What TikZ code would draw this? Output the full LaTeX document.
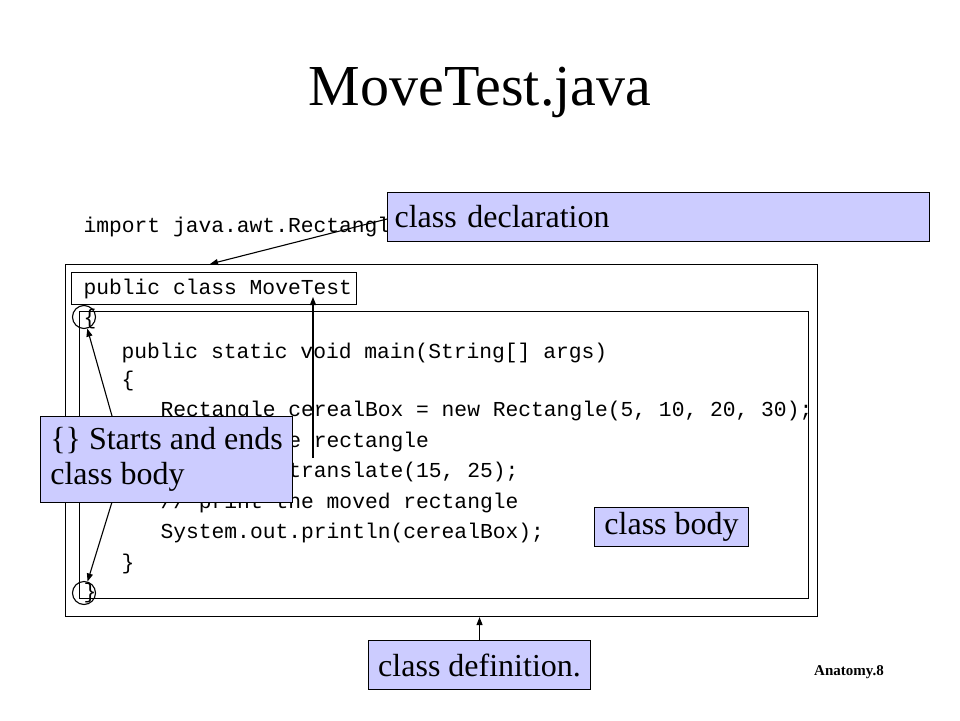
\documentclass[tikz,border=0pt]{standalone}
\usepackage{fontspec}
\setmainfont{Liberation Serif}
\setmonofont{Liberation Mono}
\usetikzlibrary{positioning,arrows.meta}
\definecolor{notefill}{RGB}{204,204,255}

\begin{document}
\begin{tikzpicture}[x=1pt,y=-1pt,line width=1.1pt,
  code/.style={anchor=base west,inner sep=0pt,font=\fontsize{21.3}{24}\selectfont\ttfamily},
  note/.style={draw,fill=notefill,font=\fontsize{32}{35}\selectfont,inner xsep=7pt,inner ysep=0pt,align=left},
  pointer/.style={-{Triangle[length=8pt,width=6pt]}},
  brace/.style={draw,circle,minimum size=23pt,inner sep=0pt}]
  \useasboundingbox (0,0) rectangle (960,720);
  % title
  \node[font=\fontsize{58}{60}\selectfont,anchor=base] (title) at (480,105) {MoveTest.java};
  % frames round the class
  \node[draw,anchor=north west,minimum width=752pt,minimum height=352pt] (classdef) at (65,264) {};
  \node[draw,anchor=north west,minimum width=729pt,minimum height=287pt] (body) at (79,311) {};
  \node[draw,anchor=north west,minimum width=285pt,minimum height=32pt] (header) at (71,272) {};
  % source lines
  \node[code] (import) at (83,232) {import java.awt.Rectangle;};
  \node[code] (headertext) at (83,294) {public class MoveTest};
  \node[code] (open) at (83,324) {\{};
  \node[code] (main) at (121,358) {public static void main(String[] args)};
  \node[code] (mainopen) at (121,386) {\{};
  \node[code] (line1) at (160,416) {Rectangle cerealBox = new Rectangle(5, 10, 20, 30);};
  \node[code] (line2) at (160,447) {// move the rectangle};
  \node[code] (line3) at (160,477) {cerealBox.translate(15, 25);};
  \node[code] (line4) at (160,508) {// print the moved rectangle};
  \node[code] (line5) at (160,538) {System.out.println(cerealBox);};
  \node[code] (mainclose) at (121,569) {\}};
  \node[code] (close) at (83,598) {\}};
  % circles on the braces
  \node[brace] (opencircle) at (84,317) {};
  \node[brace] (closecircle) at (84,593) {};
  % arrows
  \coordinate (declTip) at (210,264);
  \coordinate (nameTail) at (313,458);
  \coordinate (nameTip) at (313,297);
  \coordinate (startsTop) at (112,416);
  \coordinate (startsBottom) at (112,502);
  \draw[pointer] (387,219) -- (declTip);
  \draw[pointer] (nameTail) -- (nameTip);
  \draw[pointer] (startsTop) -- (opencircle);
  \draw[pointer] (startsBottom) -- (closecircle);
  % notes
  \node[note,anchor=north west,text width=528pt,minimum height=49pt] (decl) at (387,192) {class declaration};
  \node[note,anchor=north west,inner xsep=4pt,minimum width=252pt,minimum height=86pt] (starts) at (40,416) {\{\} Starts and ends\\class body};
  \node[note,anchor=north west,minimum width=154pt,minimum height=39pt] (bodynote) at (594,507) {class body};
  \node[note,anchor=north west,minimum width=222pt,minimum height=49pt] (defnote) at (368,640) {class definition.};
  \draw[pointer] (defnote.north) -- (defnote.north |- classdef.south);
  \node[font=\fontsize{15}{17}\selectfont\bfseries] (slide) at (849,672) {Anatomy.8};
\end{tikzpicture}
\end{document}
